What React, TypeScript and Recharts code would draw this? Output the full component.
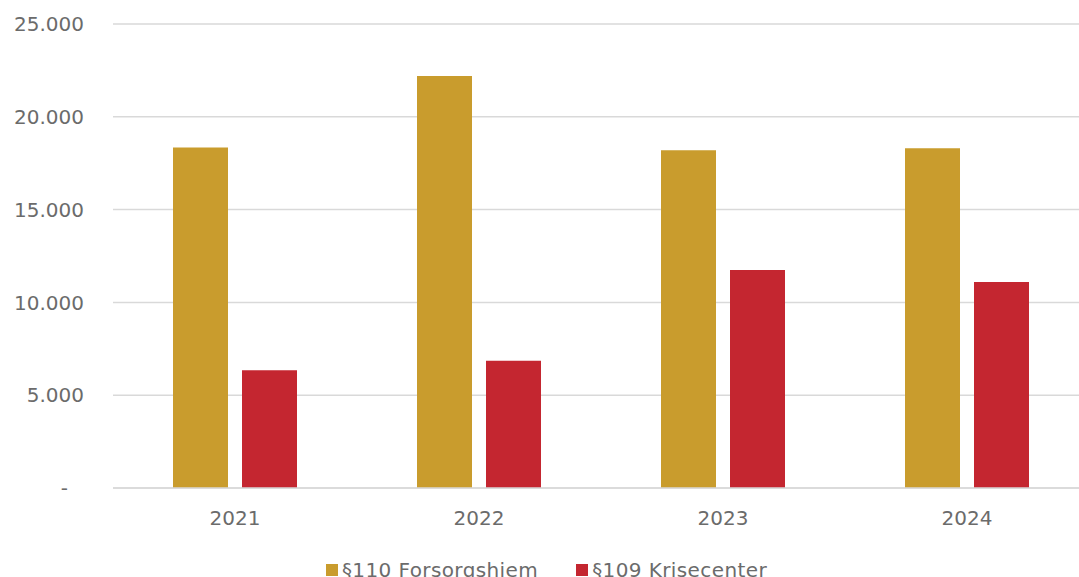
import { BarChart, Bar, XAxis, YAxis, CartesianGrid, Legend } from 'recharts'

const years = ['2021', '2022', '2023', '2024']
const seriesNames = ['§110 Forsorgshjem', '§109 Krisecenter']
const forsorgshjem = [18350, 22200, 18200, 18300]
const krisecenter = [6350, 6850, 11750, 11100]
const yTicks = [0, 5000, 10000, 15000, 20000, 25000]

const data = years.map((year, i) => ({
  year,
  forsorgshjem: forsorgshjem[i],
  krisecenter: krisecenter[i],
}))

const FONT = 'DejaVu Sans, Verdana, sans-serif'
const TEXT = '#6b6b6b'
const GOLD = '#C99C2D'
const RED = '#C42630'

const fmt = (v: number) => v.toLocaleString('da-DK').replace(/,/g, '.')

const YTick = ({ x, y, payload }: { x?: number; y?: number; payload?: { value: number } }) => {
  const v = payload?.value ?? 0
  return (
    <text x={(x ?? 0) - (v === 0 ? 16 : 0)} y={y} dy="0.355em" textAnchor="end" fill={TEXT} fontSize={20} fontFamily={FONT}>
      {v === 0 ? '-' : fmt(v)}
    </text>
  )
}

const LegendContent = ({ payload }: { payload?: { value: string; color: string }[] }) => {
  const items = [...(payload ?? [])].sort((a, b) => seriesNames.indexOf(a.value) - seriesNames.indexOf(b.value))
  return (
    <div style={{ display: 'flex', justifyContent: 'center', paddingLeft: 4, fontFamily: FONT, fontSize: 20, color: TEXT, letterSpacing: 0.4 }}>
      {items.map((p, i) => (
        <div key={p.value} style={{ display: 'flex', alignItems: 'center', marginLeft: i ? 38 : 0 }}>
          <span style={{ display: 'inline-block', width: 12, height: 12, background: p.color, marginRight: 4 }} />
          <span>{p.value}</span>
        </div>
      ))}
    </div>
  )
}

export default function App() {
  return (
    <div style={{ position: 'absolute', left: 0, top: 0, width: 1079, height: 577, overflow: 'hidden', background: '#fff' }}>
      <BarChart
        width={1095}
        height={577}
        data={data}
        margin={{ top: 24, right: 6, left: 0, bottom: 0 }}
        barGap={14}
        barSize={55}
      >
        <CartesianGrid vertical={false} stroke="#d9d9d9" strokeWidth={1.5} />
        <XAxis
          dataKey="year"
          height={65}
          tickLine={false}
          tickSize={0}
          tickMargin={23}
          axisLine={{ stroke: '#d9d9d9', strokeWidth: 1.5 }}
          tick={{ fill: TEXT, fontSize: 20, fontFamily: FONT }}
        />
        <YAxis
          width={113}
          domain={[0, 25000]}
          ticks={yTicks}
          axisLine={false}
          tickLine={false}
          tickSize={0}
          tickMargin={29}
          tick={<YTick />}
        />
        <Legend verticalAlign="bottom" height={24} wrapperStyle={{ bottom: -5 }} content={<LegendContent />} />
        <Bar dataKey="forsorgshjem" name={seriesNames[0]} fill={GOLD} isAnimationActive={false} />
        <Bar dataKey="krisecenter" name={seriesNames[1]} fill={RED} isAnimationActive={false} />
      </BarChart>
    </div>
  )
}
